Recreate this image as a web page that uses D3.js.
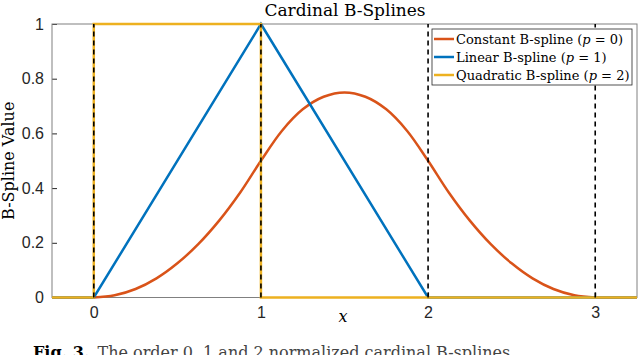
<!DOCTYPE html>
<head>
  <meta charset="utf-8">
  <script src="https://d3js.org/d3.v7.min.js"></script>
  <style>
  body { margin: 0; background: #fff; }
  path.curve { fill: none; stroke-width: 2.5px; }
  .tick text { font-family: "Liberation Sans", Arial, sans-serif; font-size: 16px; fill: #262626; }
  .serif { font-family: "DejaVu Serif", "Liberation Serif", serif; fill: #000; }
</style>
</head>
<body>
<svg width="640" height="355"></svg>

<script type="text/javascript">
// values
var xTicks = [0, 1, 2, 3];
var yTicks = [0, 0.2, 0.4, 0.6, 0.8, 1];
var knots = [0, 1, 2, 3];

var quadX = [-0.25, 0, 0.125, 0.25, 0.375, 0.5, 0.625, 0.75, 0.875, 1, 1.125, 1.25, 1.375, 1.5,
             1.625, 1.75, 1.875, 2, 2.125, 2.25, 2.375, 2.5, 2.625, 2.75, 2.875, 3, 3.25];
var quadY = [0, 0, 0.008, 0.031, 0.07, 0.125, 0.195, 0.281, 0.383, 0.5, 0.609, 0.688, 0.734, 0.75,
             0.734, 0.688, 0.609, 0.5, 0.383, 0.281, 0.195, 0.125, 0.07, 0.031, 0.008, 0, 0];
var linX = [-0.25, 0, 1, 2, 3.25];
var linY = [0, 0, 1, 0, 0];
var constX = [-0.25, 0, 0, 1, 1, 3.25];
var constY = [0, 0, 1, 1, 0, 0];

var legendLabels = ["Constant B-spline (", "Linear B-spline (", "Quadratic B-spline ("];
var legendP = ["0", "1", "2"];
var colors = ["#D95319", "#0072BD", "#EDB120"];

var svg = d3.select("svg");
var mLeft = 52, mRight = 637, mTop = 24, mBottom = 297.5;

var x = d3.scaleLinear().domain([-0.25, 3.25]).range([mLeft, mRight]);
var y = d3.scaleLinear().domain([0, 1]).range([mBottom, mTop]);

// axes (ticks pointing inward like matlab)
svg.append("g")
  .attr("transform", "translate(0," + mBottom + ")")
  .call(d3.axisBottom(x).tickValues(xTicks).tickSize(-5).tickPadding(9).tickFormat(d3.format("d")))
  .call(function (g) { g.select(".domain").remove(); g.selectAll("line").attr("stroke", "#262626"); });

svg.append("g")
  .attr("transform", "translate(" + mLeft + ",0)")
  .call(d3.axisLeft(y).tickValues(yTicks).tickSize(-5).tickPadding(8).tickFormat(function (d) { return String(d); }))
  .call(function (g) { g.select(".domain").remove(); g.selectAll("line").attr("stroke", "#262626"); });

// box
svg.append("rect")
  .attr("x", mLeft).attr("y", mTop)
  .attr("width", mRight - mLeft).attr("height", mBottom - mTop)
  .attr("fill", "none").attr("stroke", "#808080").attr("stroke-width", 1);

function lineGen(curve) {
  return d3.line().curve(curve).x(function (d) { return x(d[0]); }).y(function (d) { return y(d[1]); });
}

svg.append("path").attr("class", "curve")
  .attr("d", lineGen(d3.curveCatmullRom.alpha(0.5))(d3.zip(quadX, quadY)))
  .attr("stroke", colors[0]);
svg.append("path").attr("class", "curve")
  .attr("d", lineGen(d3.curveLinear)(d3.zip(linX, linY)))
  .attr("stroke", colors[1]);
svg.append("path").attr("class", "curve")
  .attr("d", lineGen(d3.curveLinear)(d3.zip(constX, constY)))
  .attr("stroke", colors[2]);

// knot lines
svg.selectAll(".knot").data(knots).enter().append("line")
  .attr("x1", function (d) { return x(d); }).attr("x2", function (d) { return x(d); })
  .attr("y1", y(0)).attr("y2", y(1))
  .attr("stroke", "#000").attr("stroke-width", 1.6)
  .attr("stroke-dasharray", "5,4");

// title and labels
svg.append("text").attr("class", "serif")
  .attr("x", 345).attr("y", 16).attr("text-anchor", "middle")
  .style("font-size", "17px").text("Cardinal B-Splines");

svg.append("text").attr("class", "serif")
  .attr("transform", "translate(14," + ((mTop + mBottom) / 2) + ") rotate(-90)")
  .attr("text-anchor", "middle").style("font-size", "16px").text("B-Spline Value");

svg.append("text").attr("class", "serif")
  .attr("x", 343).attr("y", 322).attr("text-anchor", "middle")
  .style("font-size", "16px").style("font-style", "italic").text("x");

// legend
var lg = svg.append("g").attr("transform", "translate(432,29)");
lg.append("rect").attr("width", 200).attr("height", 56)
  .attr("fill", "#fff").attr("stroke", "#262626").attr("stroke-width", 0.8);
legendLabels.forEach(function (lab, i) {
  var yy = 10 + i * 18;
  lg.append("line").attr("x1", 2).attr("x2", 22).attr("y1", yy).attr("y2", yy)
    .attr("stroke", colors[i]).attr("stroke-width", 2.5);
  var t = lg.append("text").attr("class", "serif").attr("x", 24).attr("y", yy + 5)
    .style("font-size", "13px");
  t.append("tspan").text(lab);
  t.append("tspan").style("font-style", "italic").text("p");
  t.append("tspan").text(" = " + legendP[i] + ")");
});

// figure caption, cut off at bottom of the image
var cap = svg.append("text").attr("class", "serif").attr("x", 33).attr("y", 358)
  .style("font-size", "16px");
cap.append("tspan").style("font-weight", "bold").text("Fig. 3.");
cap.append("tspan").attr("dx", 8).style("fill", "#444").text("The order 0, 1 and 2 normalized cardinal B-splines");
</script>

</body>
</html>
